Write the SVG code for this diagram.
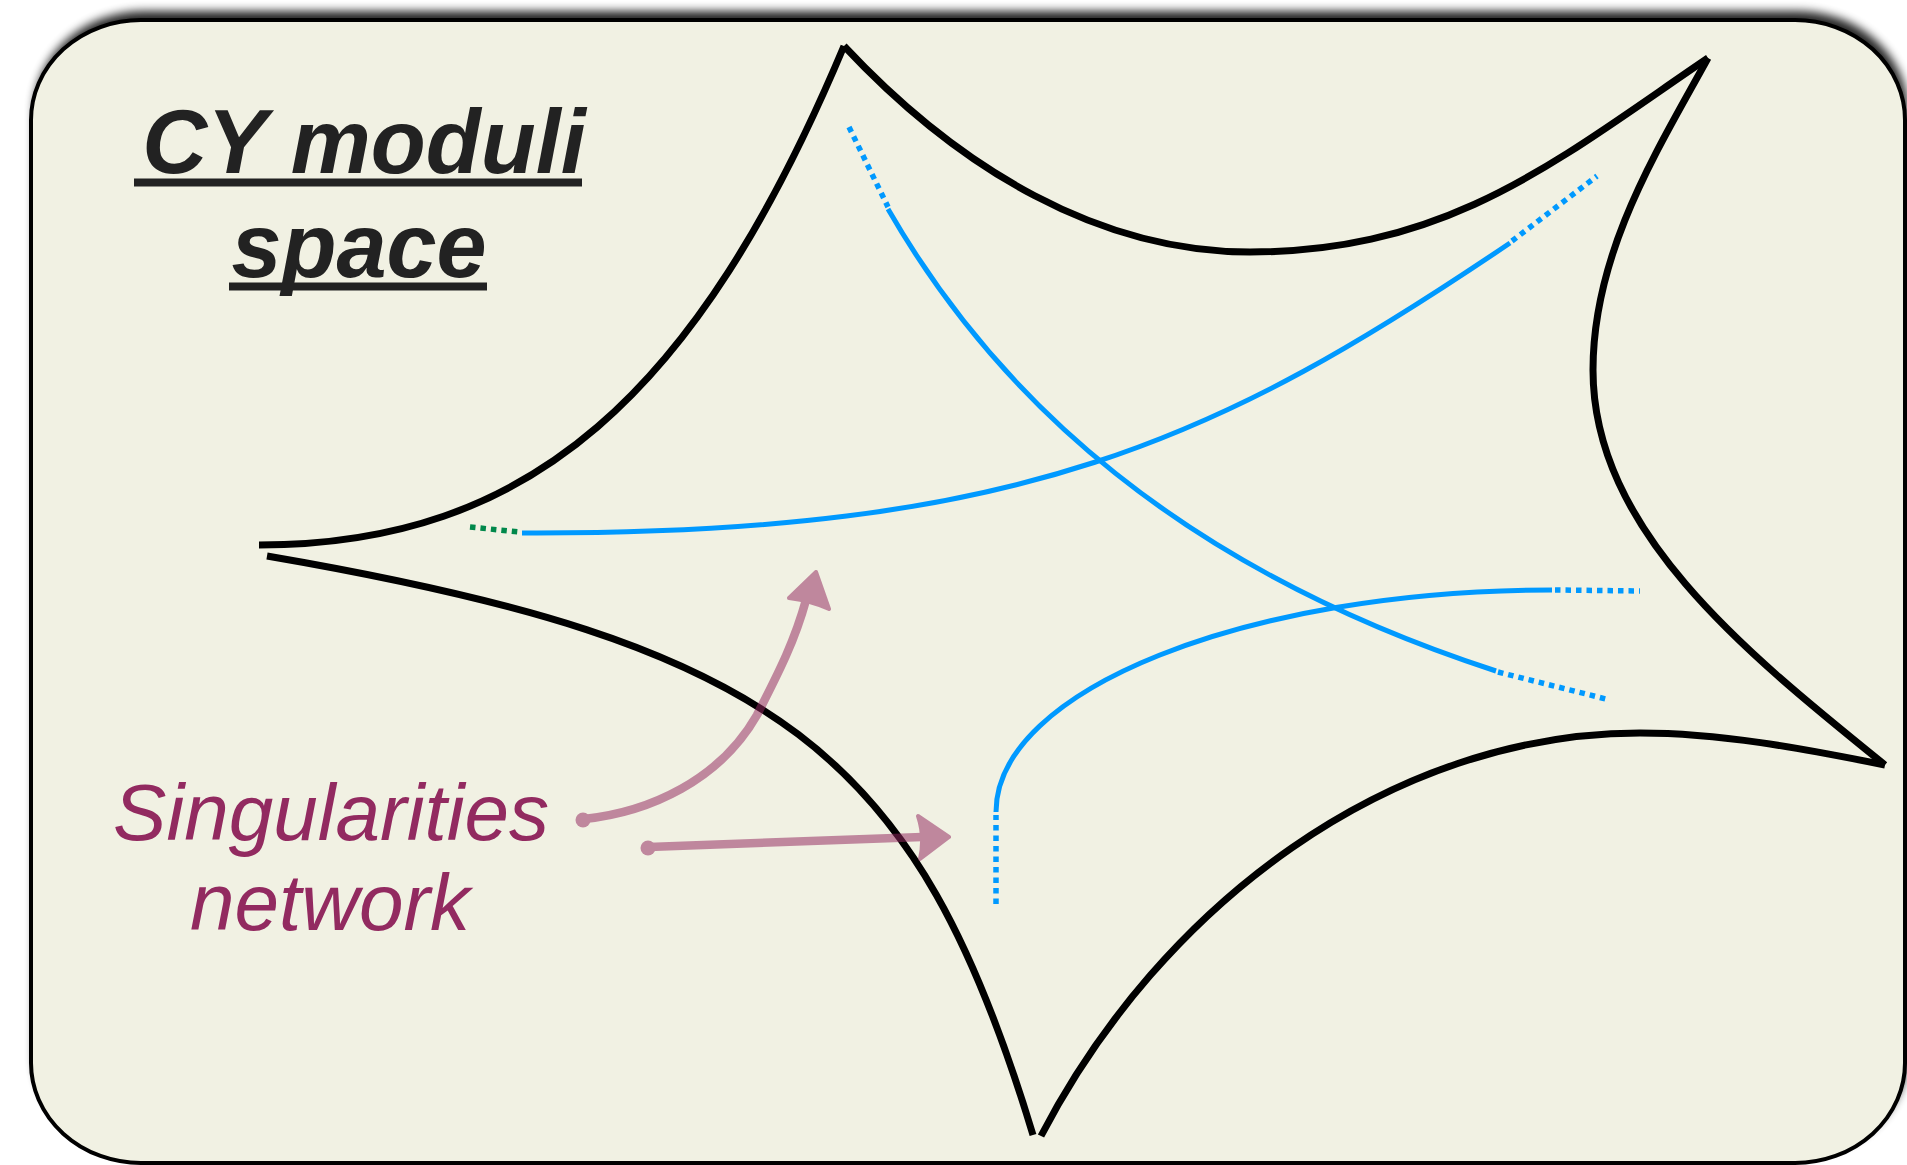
<svg xmlns="http://www.w3.org/2000/svg" width="1907" height="1165" viewBox="0 0 1907 1165">
  <defs>
    <filter id="shadow" x="-5%" y="-5%" width="110%" height="110%">
      <feGaussianBlur stdDeviation="5"/>
    </filter>
    <style>
      .cusp { fill: none; stroke: #000; stroke-width: 7; stroke-linecap: butt; }
      .blue { fill: none; stroke: #0099FF; stroke-width: 5; }
      .bdot { fill: none; stroke: #0099FF; stroke-width: 5.5; stroke-dasharray: 5.5 5; }
      .gdot { fill: none; stroke: #00884B; stroke-width: 5.5; stroke-dasharray: 5.5 5; }
      .arrow { fill: none; stroke: #93285F; stroke-width: 8.5; stroke-linecap: round; stroke-linejoin: round; }
      .title { font-family: "Liberation Sans", Arial, sans-serif; font-weight: bold; font-style: italic; font-size: 90px; fill: #222222; }
      .label { font-family: "Liberation Sans", Arial, sans-serif; font-style: italic; font-size: 80px; fill: #922A60; }
    </style>
  </defs>

  <rect width="1907" height="1165" fill="#ffffff"/>

  <g id="frame">
    <rect x="34" y="11" width="1874" height="1143" rx="110" ry="100" fill="#000" opacity="0.85" filter="url(#shadow)"/>
    <rect x="31" y="20" width="1874" height="1143" rx="110" ry="100" fill="#F1F1E3" stroke="#000" stroke-width="4"/>
  </g>

  <g id="title">
    <text class="title" x="364" y="173" text-anchor="middle">CY moduli</text>
    <rect x="134" y="178.5" width="448" height="8" fill="#222222"/>
    <text class="title" x="359" y="277" text-anchor="middle">space</text>
    <rect x="229" y="282.5" width="258" height="8" fill="#222222"/>
  </g>

  <g id="moduli-boundary">
    <path class="cusp" d="M259,545 C529,545 697,396 844,46"/>
    <path class="cusp" d="M844,46 C960,170 1100,252 1250,252 C1450,252 1559,159 1708,58"/>
    <path class="cusp" d="M1708,58 C1660,146 1593,250 1593,370 C1593,530 1745,652 1885,765"/>
    <path class="cusp" d="M1885,765 C1800,748 1720,733 1640,733 C1390,733 1161,905 1041,1136"/>
    <path class="cusp" d="M267,556 C779,644 917,751 1033,1135"/>
  </g>

  <g id="singularities">
    <path class="gdot" d="M470,527 L519,532"/>
    <path class="blue" d="M522,533 C1022,535 1220,439 1510,243"/>
    <path class="bdot" d="M1512,241 L1597,176"/>

    <path class="bdot" d="M849,127 L888,207"/>
    <path class="blue" d="M888,209 C998,400 1182,569 1496,671"/>
    <path class="bdot" d="M1498,672 L1610,700"/>

    <path class="bdot" d="M996,904 L996,815"/>
    <path class="blue" d="M996,812 C996,690 1246,590 1552,590"/>
    <path class="bdot" d="M1555,590 L1640,591"/>
  </g>

  <g id="label">
    <text class="label" x="331" y="840" text-anchor="middle">Singularities</text>
    <text class="label" x="330" y="930" text-anchor="middle">network</text>
  </g>

  <g id="connectors" opacity="0.52">
    <g>
      <path class="arrow" d="M584,819 C650,812 720,780 757,715 C780,670 795,640 806,600"/>
      <circle cx="583" cy="820" r="7.5" fill="#93285F"/>
      <path d="M816,572 L829,609 Q812,601 789,598 Z" fill="#93285F" stroke="#93285F" stroke-width="4" stroke-linejoin="round"/>
    </g>
    <g>
      <path class="arrow" d="M649,847 C750,843 850,840 922,837"/>
      <circle cx="648" cy="848" r="7.5" fill="#93285F"/>
      <path d="M949,837 L918,816 Q925,837 920,859 Z" fill="#93285F" stroke="#93285F" stroke-width="4" stroke-linejoin="round"/>
    </g>
  </g>
</svg>
